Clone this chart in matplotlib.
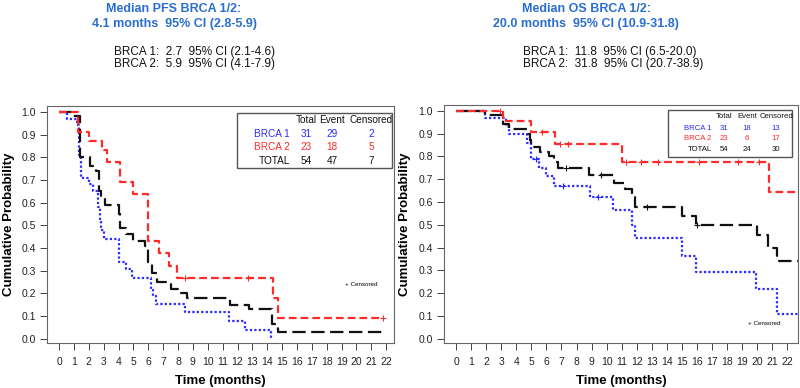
import numpy as np
import matplotlib
matplotlib.use("Agg")
import matplotlib.pyplot as plt

plt.rcParams['font.family'] = ['Liberation Sans', 'DejaVu Sans']

# ---------------- PFS data (left) ----------------
pfs_brca1_t = [0, 0.5, 1.2, 1.35, 1.45, 2.0, 2.3, 2.65, 2.75, 2.85, 3.0, 4.05, 4.5, 4.9, 6.15, 6.3, 6.5, 8.5, 11.4, 12.5, 14.25, 14.3]
pfs_brca1_s = [1.0, 0.97, 0.94, 0.81, 0.71, 0.68, 0.65, 0.58, 0.52, 0.48, 0.44, 0.34, 0.31, 0.27, 0.22, 0.19, 0.155, 0.12, 0.08, 0.04, 0.0, 0.0]

pfs_brca2_t = [0, 1.25, 2.0, 2.9, 3.2, 4.1, 5.0, 5.95, 6.7, 7.4, 7.9, 14.4, 14.7, 21.8]
pfs_brca2_s = [1.0, 0.91, 0.87, 0.83, 0.78, 0.69, 0.64, 0.43, 0.38, 0.32, 0.27, 0.18, 0.09, 0.09]
pfs_brca2_cens = [8.5, 12.7, 21.8]

pfs_total_t = [0, 0.9, 1.4, 2.1, 2.5, 2.7, 2.85, 3.1, 4.0, 4.1, 4.5, 5.0, 5.8, 6.0, 6.25, 6.6, 7.5, 8.2, 8.6, 11.5, 12.8, 14.3, 14.7, 21.9]
pfs_total_s = [1.0, 0.98, 0.80, 0.76, 0.74, 0.65, 0.62, 0.59, 0.55, 0.49, 0.46, 0.43, 0.41, 0.34, 0.29, 0.25, 0.22, 0.20, 0.18, 0.15, 0.13, 0.065, 0.03, 0.03]

# ---------------- OS data (right) ----------------
os_brca1_t = [0, 1.9, 3.3, 3.5, 4.7, 5.0, 5.5, 6.0, 6.5, 8.9, 10.4, 11.7, 11.9, 15.0, 15.9, 19.9, 21.3, 22.7]
os_brca1_s = [1.0, 0.97, 0.935, 0.90, 0.86, 0.79, 0.75, 0.715, 0.67, 0.62, 0.565, 0.50, 0.44, 0.365, 0.295, 0.22, 0.11, 0.11]
os_brca1_cens = [5.3, 7.1, 9.4]

os_brca2_t = [0, 3.1, 5.0, 6.6, 11.0, 20.8, 22.7]
os_brca2_s = [1.0, 0.955, 0.905, 0.855, 0.775, 0.645, 0.645]
os_brca2_cens = [2.9, 5.7, 6.9, 7.4, 11.3, 12.3, 13.4, 16.1, 18.7, 20.1]

os_total_t = [0, 1.9, 3.1, 3.5, 4.8, 4.9, 5.0, 5.6, 6.2, 6.5, 6.8, 8.8, 10.5, 11.2, 11.7, 11.9, 15.0, 15.9, 20.0, 20.7, 21.3, 22.7]
os_total_s = [1.0, 0.98, 0.94, 0.92, 0.90, 0.87, 0.84, 0.82, 0.80, 0.775, 0.75, 0.72, 0.685, 0.655, 0.62, 0.58, 0.54, 0.50, 0.455, 0.40, 0.34, 0.34]
os_total_cens = [7.3, 9.6, 12.7, 16.0]

# ---------------- legend tables ----------------
tbl_rows = ["BRCA 1", "BRCA 2", "TOTAL"]
pfs_total = [31, 23, 54]
pfs_event = [29, 18, 47]
pfs_cens = [2, 5, 7]
os_total = [31, 23, 54]
os_event = [18, 6, 24]
os_censn = [13, 17, 30]

x_ticks = list(range(0, 23))
y_ticks = [round(0.1 * i, 1) for i in range(11)]

BLUE = '#2b2bff'
RED = '#ff2a2a'
BLACK = '#111111'
TITLE_BLUE = '#2a6fd0'

fig = plt.figure(figsize=(8.0, 3.88), dpi=100)


def step_val(t, s, x):
    i = np.searchsorted(np.asarray(t), x, side='right') - 1
    return np.asarray(s)[i]


def draw_panel(ax, curves, xmax):
    for t, s, color, ls, cens in curves:
        ax.step(t, s, where='post', color=color, lw=1.6, linestyle=ls)
        if cens:
            ax.plot(cens, step_val(t, s, cens), linestyle='none', marker='+',
                    ms=4, mew=0.8, color=color)
    ax.set_xlim(-0.8, xmax)
    ax.set_ylim(-0.018, 1.026)
    ax.set_xticks(x_ticks)
    ax.set_yticks(y_ticks)
    ax.set_yticklabels([f"{v:.1f}" for v in y_ticks])
    ax.tick_params(labelsize=7.5, length=5, width=0.6, colors='#222222', pad=3)
    ax.tick_params(axis='x', pad=5)
    for sp in ax.spines.values():
        sp.set_color('#666666')
        sp.set_linewidth(0.8)
    ax.set_xlabel("Time (months)", fontsize=9.5, fontweight='bold', labelpad=6)
    ax.set_ylabel("Cumulative Probability", fontsize=9.5, fontweight='bold', labelpad=5)


def draw_table(fig, box, cols_x, rows_y, header_y, fs, totals, events, cens):
    x0, y0, x1, y1 = box
    W, H = 800.0, 388.0
    rect = plt.Rectangle((x0 / W, 1 - y1 / H), (x1 - x0) / W, (y1 - y0) / H,
                         transform=fig.transFigure, fill=True, facecolor='white',
                         edgecolor='#555555', lw=1.0, zorder=5)
    fig.add_artist(rect)
    lab_x, c1, c2, c3 = cols_x
    for txt, cx in zip(["Total", "Event", "Censored"], [c1, c2, c3]):
        fig.text(cx / W, 1 - header_y / H, txt, ha='center', va='center', fontsize=fs,
                 color=BLACK, zorder=6)
    colors = [BLUE, RED, BLACK]
    for i, name in enumerate(tbl_rows):
        y = 1 - rows_y[i] / H
        fig.text(lab_x / W, y, name, ha='right', va='center', fontsize=fs, color=colors[i], zorder=6)
        fig.text(c1 / W, y, str(totals[i]), ha='center', va='center', fontsize=fs, color=colors[i], zorder=6)
        fig.text(c2 / W, y, str(events[i]), ha='center', va='center', fontsize=fs, color=colors[i], zorder=6)
        fig.text(c3 / W, y, str(cens[i]), ha='center', va='center', fontsize=fs, color=colors[i], zorder=6)


# Left panel (PFS)
axL = fig.add_axes([0.059, 0.116, 0.434, 0.611])
draw_panel(axL, [
    (pfs_brca1_t, pfs_brca1_s, BLUE, (0, (1, 1)), None),
    (pfs_total_t, pfs_total_s, BLACK, (0, (6, 2.5)), None),
    (pfs_brca2_t, pfs_brca2_s, RED, (0, (3.5, 1.8)), pfs_brca2_cens),
], 22.55)
axL.text(0.905, 0.245, "+ Censored", transform=axL.transAxes, fontsize=4.5, ha='center', va='center')

# Right panel (OS)
axR = fig.add_axes([0.555, 0.116, 0.4425, 0.614])
draw_panel(axR, [
    (os_brca1_t, os_brca1_s, BLUE, (0, (1, 1)), os_brca1_cens),
    (os_total_t, os_total_s, BLACK, (0, (6, 2.5)), os_total_cens),
    (os_brca2_t, os_brca2_s, RED, (0, (3.5, 1.8)), os_brca2_cens),
], 22.7)
axR.text(0.905, 0.08, "+ Censored", transform=axR.transAxes, fontsize=4.5, ha='center', va='center')

# Tables
draw_table(fig, (237, 113, 392, 168), (290, 306, 332, 371), (134, 147, 161), 120, 7.2,
           pfs_total, pfs_event, pfs_cens)
draw_table(fig, (668, 110, 792, 157), (712, 724, 747, 776), (128, 138, 150), 117, 5.6,
           os_total, os_event, os_censn)

# Titles
W, H = 800.0, 388.0
fig.text(174 / W, 1 - 9 / H, "Median PFS BRCA 1/2:", ha='center', va='center',
         fontsize=9, fontweight='bold', color=TITLE_BLUE)
fig.text(174 / W, 1 - 24 / H, "4.1 months  95% CI (2.8-5.9)", ha='center', va='center',
         fontsize=9, fontweight='bold', color=TITLE_BLUE)
fig.text(114 / W, 1 - 52 / H, "BRCA 1:  2.7  95% CI (2.1-4.6)", ha='left', va='center',
         fontsize=8.5, color=BLACK)
fig.text(114 / W, 1 - 64 / H, "BRCA 2:  5.9  95% CI (4.1-7.9)", ha='left', va='center',
         fontsize=8.5, color=BLACK)

fig.text(586 / W, 1 - 9 / H, "Median OS BRCA 1/2:", ha='center', va='center',
         fontsize=9, fontweight='bold', color=TITLE_BLUE)
fig.text(586 / W, 1 - 24 / H, "20.0 months  95% CI (10.9-31.8)", ha='center', va='center',
         fontsize=9, fontweight='bold', color=TITLE_BLUE)
fig.text(523 / W, 1 - 52 / H, "BRCA 1:  11.8  95% CI (6.5-20.0)", ha='left', va='center',
         fontsize=8.5, color=BLACK)
fig.text(523 / W, 1 - 64 / H, "BRCA 2:  31.8  95% CI (20.7-38.9)", ha='left', va='center',
         fontsize=8.5, color=BLACK)

fig.savefig("out.png", dpi=100, facecolor='white')
